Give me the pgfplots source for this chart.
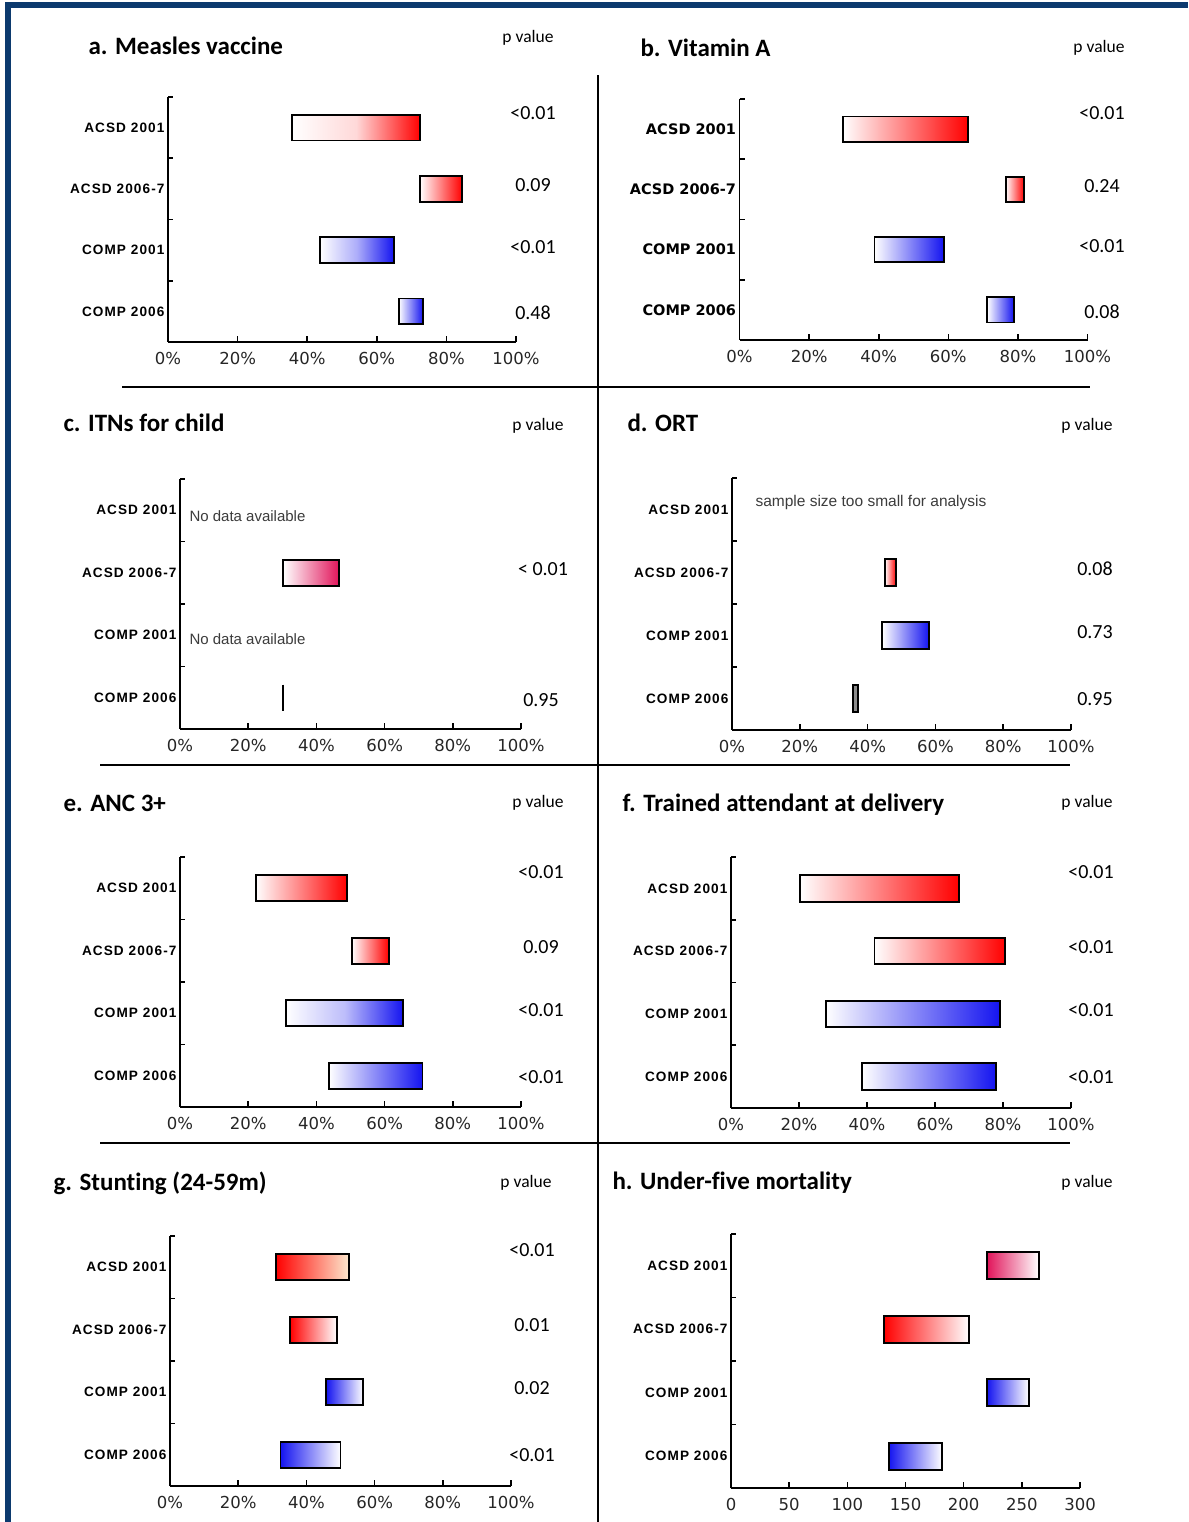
\documentclass[border=0pt]{standalone}
\usepackage{fontspec}
\usepackage{pgfplots}
\pgfplotsset{compat=1.18}
\setmainfont{Liberation Sans}
\newfontfamily\titlefont[Ligatures={NoCommon}]{Carlito}
\newfontfamily\tickfont{DejaVu Sans}
\newfontfamily\ylabfont[LetterSpace=8]{Liberation Sans}
\newfontfamily\ylabfontb{DejaVu Sans}
\definecolor{framec}{RGB}{12,58,110}
\definecolor{bred}{RGB}{255,0,0}
\definecolor{bblue}{RGB}{20,20,240}
\definecolor{crim}{RGB}{225,20,90}
\definecolor{peach}{RGB}{253,232,205}
\definecolor{txtgray}{RGB}{60,60,60}

\pgfplotsset{
  panel/.style={
    scale only axis, anchor=south west,
    axis x line=bottom, axis y line=left,
    axis line style={-, line width=1.8pt, black},
    xmin=0, xmax=100, ymin=-0.5, ymax=3.5, y dir=reverse,
    xtick={0,20,40,60,80,100},
    xticklabels={0\%,20\%,40\%,60\%,80\%,100\%},
    ytick={0,1,2,3},
    yticklabels={ACSD 2001,ACSD 2006-7,COMP 2001,COMP 2006},
    minor ytick={-0.5,0.5,1.5,2.5},
    tick align=inside,
    major tick length=6pt, minor tick length=5pt,
    tick style={black, line width=1.6pt},
    major y tick style={draw=none},
    xticklabel style={font=\tickfont\fontsize{16.5}{17}\selectfont, text=black!85, yshift=-7pt},
    yticklabel style={font=\ylabfont\bfseries\fontsize{13.6}{14}\selectfont, anchor=east},
    clip=false, no markers,
  },
  bar/.style={draw=black, line width=1.9pt},
}
\newcommand{\ttl}[3]{\node[anchor=west, font=\titlefont\bfseries\fontsize{25}{25}\selectfont] at (#1pt,#2pt) {#3};}
\newcommand{\pv}[3]{\node[font=\titlefont\fontsize{17.5}{18}\selectfont] at (#1pt,#2pt) {#3};}
\newcommand{\pval}[3]{\node[font=\titlefont\fontsize{20}{20}\selectfont] at (#1pt,#2pt) {#3};}

\begin{document}
\begin{tikzpicture}[x=1pt,y=1pt]
\fill[white] (0,0) rectangle (1188,1522);
\path[use as bounding box] (0,0) rectangle (1188,1522);
\fill[framec] (5,0) rectangle (11,1520);
\fill[framec] (5,1514) rectangle (1188,1520);

% dividers
\draw[line width=2.5pt] (598,0) -- (598,1447);
\draw[line width=2.5pt] (122,1135) -- (1090,1135);
\draw[line width=2.5pt] (100,757) -- (1070,757);
\draw[line width=2.5pt] (100,379) -- (1070,379);

% a. Measles vaccine
\begin{axis}[panel, at={(168pt,1180pt)}, width=348pt, height=245pt]
\addplot[bar, left color=white, right color=bred, middle color=bred!15] coordinates {(35.6,-0.21) (72.5,-0.21) (72.5,0.21) (35.6,0.21)} -- cycle;
\addplot[bar, left color=white, right color=bred] coordinates {(72.4,0.79) (84.5,0.79) (84.5,1.21) (72.4,1.21)} -- cycle;
\addplot[bar, left color=white, right color=bblue, middle color=bblue!35] coordinates {(43.7,1.79) (64.9,1.79) (64.9,2.21) (43.7,2.21)} -- cycle;
\addplot[bar, left color=white, right color=bblue] coordinates {(66.3,2.79) (73.3,2.79) (73.3,3.21) (66.3,3.21)} -- cycle;
\end{axis}
\ttl{85}{1476}{a. Measles vaccine}
\pv{528}{1484}{p value}
\pval{533}{1409}{<0.01}
\pval{533}{1337}{0.09}
\pval{533}{1275}{<0.01}
\pval{533}{1209}{0.48}

% b. Vitamin A
\begin{axis}[panel, at={(739.5pt,1182pt)}, width=348pt, height=241pt,
  yticklabel style={font=\ylabfontb\bfseries\fontsize{14.5}{15}\selectfont}]
\addplot[bar, left color=white, right color=bred] coordinates {(29.7,-0.21) (65.7,-0.21) (65.7,0.21) (29.7,0.21)} -- cycle;
\addplot[bar, left color=white, right color=bred] coordinates {(76.5,0.79) (81.8,0.79) (81.8,1.21) (76.5,1.21)} -- cycle;
\addplot[bar, left color=white, right color=bblue] coordinates {(38.8,1.79) (58.7,1.79) (58.7,2.21) (38.8,2.21)} -- cycle;
\addplot[bar, left color=white, right color=bblue] coordinates {(71.2,2.79) (78.8,2.79) (78.8,3.21) (71.2,3.21)} -- cycle;
\end{axis}
\ttl{637}{1474}{b. Vitamin A}
\pv{1099}{1474}{p value}
\pval{1102}{1409}{<0.01}
\pval{1102}{1336}{0.24}
\pval{1102}{1276}{<0.01}
\pval{1102}{1210}{0.08}

% c. ITNs for child
\begin{axis}[panel, at={(180pt,793pt)}, width=341pt, height=250pt]
\addplot[bar, left color=white, right color=crim] coordinates {(30.3,0.79) (46.7,0.79) (46.7,1.21) (30.3,1.21)} -- cycle;
\addplot[black, line width=1.9pt] coordinates {(30.3,2.79) (30.3,3.21)};
\end{axis}
\ttl{60}{1099}{c. ITNs for child}
\pv{538}{1096}{p value}
\node[anchor=west, font=\fontsize{15}{15}\selectfont, text=txtgray] at (186,1006) {No data available};
\node[anchor=west, font=\fontsize{15}{15}\selectfont, text=txtgray] at (186,883) {No data available};
\pval{543}{953}{< 0.01}
\pval{541}{822}{0.95}

% d. ORT
\begin{axis}[panel, at={(732pt,792pt)}, width=339pt, height=252pt]
\addplot[bar, left color=white, right color=bred] coordinates {(45.1,0.79) (48.4,0.79) (48.4,1.21) (45.1,1.21)} -- cycle;
\addplot[bar, left color=white, right color=bblue] coordinates {(44.3,1.79) (58.1,1.79) (58.1,2.21) (44.3,2.21)} -- cycle;
\addplot[bar, fill=black!45] coordinates {(35.7,2.79) (37.1,2.79) (37.1,3.21) (35.7,3.21)} -- cycle;
\end{axis}
\ttl{624}{1099}{d. ORT}
\pv{1087}{1096}{p value}
\node[anchor=west, font=\fontsize{15.5}{15.5}\selectfont, text=txtgray] at (752,1019) {sample size too small for analysis};
\pval{1095}{953}{0.08}
\pval{1095}{890}{0.73}
\pval{1095}{823}{0.95}

% e. ANC 3+
\begin{axis}[panel, at={(180pt,415pt)}, width=341pt, height=250pt]
\addplot[bar, left color=white, right color=bred] coordinates {(22.2,-0.21) (49.0,-0.21) (49.0,0.21) (22.2,0.21)} -- cycle;
\addplot[bar, left color=white, right color=bred] coordinates {(50.4,0.79) (61.2,0.79) (61.2,1.21) (50.4,1.21)} -- cycle;
\addplot[bar, left color=white, right color=bblue, middle color=bblue!28] coordinates {(31.1,1.79) (65.5,1.79) (65.5,2.21) (31.1,2.21)} -- cycle;
\addplot[bar, left color=white, right color=bblue] coordinates {(43.7,2.79) (71.1,2.79) (71.1,3.21) (43.7,3.21)} -- cycle;
\end{axis}
\ttl{60}{719}{e. ANC 3+}
\pv{538}{719}{p value}
\pval{541}{650}{<0.01}
\pval{541}{575}{0.09}
\pval{541}{512}{<0.01}
\pval{541}{445}{<0.01}

% f. Trained attendant at delivery
\begin{axis}[panel, at={(731pt,414pt)}, width=340pt, height=251pt]
\addplot[bar, left color=white, right color=bred] coordinates {(20.4,-0.21) (67.0,-0.21) (67.0,0.21) (20.4,0.21)} -- cycle;
\addplot[bar, left color=white, right color=bred] coordinates {(42.2,0.79) (80.7,0.79) (80.7,1.21) (42.2,1.21)} -- cycle;
\addplot[bar, left color=white, right color=bblue] coordinates {(27.9,1.79) (79.2,1.79) (79.2,2.21) (27.9,2.21)} -- cycle;
\addplot[bar, left color=white, right color=bblue] coordinates {(38.6,2.79) (77.9,2.79) (77.9,3.21) (38.6,3.21)} -- cycle;
\end{axis}
\ttl{619}{717}{f. Trained attendant at delivery}
\pv{1087}{719}{p value}
\pval{1091}{650}{<0.01}
\pval{1091}{575}{<0.01}
\pval{1091}{512}{<0.01}
\pval{1091}{445}{<0.01}

% g. Stunting (24-59m)
\begin{axis}[panel, at={(170pt,36pt)}, width=341pt, height=250pt]
\addplot[bar, left color=bred, right color=peach] coordinates {(31.1,-0.21) (52.5,-0.21) (52.5,0.21) (31.1,0.21)} -- cycle;
\addplot[bar, left color=bred, right color=white] coordinates {(35.2,0.79) (48.9,0.79) (48.9,1.21) (35.2,1.21)} -- cycle;
\addplot[bar, left color=bblue, right color=white] coordinates {(45.8,1.79) (56.7,1.79) (56.7,2.21) (45.8,2.21)} -- cycle;
\addplot[bar, left color=bblue, right color=white] coordinates {(32.4,2.79) (50.0,2.79) (50.0,3.21) (32.4,3.21)} -- cycle;
\end{axis}
\ttl{50}{339}{g. Stunting (24-59m)}
\pv{526}{339}{p value}
\pval{532}{272}{<0.01}
\pval{532}{197}{0.01}
\pval{532}{134}{0.02}
\pval{532}{67}{<0.01}

% h. Under-five mortality
\begin{axis}[panel, at={(731pt,34pt)}, width=349pt, height=254pt,
  xmin=0, xmax=300, xtick={0,50,100,150,200,250,300},
  xticklabels={0,50,100,150,200,250,300}]
\addplot[bar, left color=crim, right color=white] coordinates {(220,-0.21) (264.5,-0.21) (264.5,0.21) (220,0.21)} -- cycle;
\addplot[bar, left color=bred, right color=white] coordinates {(131.6,0.79) (204.8,0.79) (204.8,1.21) (131.6,1.21)} -- cycle;
\addplot[bar, left color=bblue, right color=white] coordinates {(220,1.79) (255.8,1.79) (255.8,2.21) (220,2.21)} -- cycle;
\addplot[bar, left color=bblue, right color=white] coordinates {(135.5,2.79) (181.6,2.79) (181.6,3.21) (135.5,3.21)} -- cycle;
\end{axis}
\ttl{609}{339}{h. Under-five mortality}
\pv{1087}{339}{p value}
\end{tikzpicture}
\end{document}
